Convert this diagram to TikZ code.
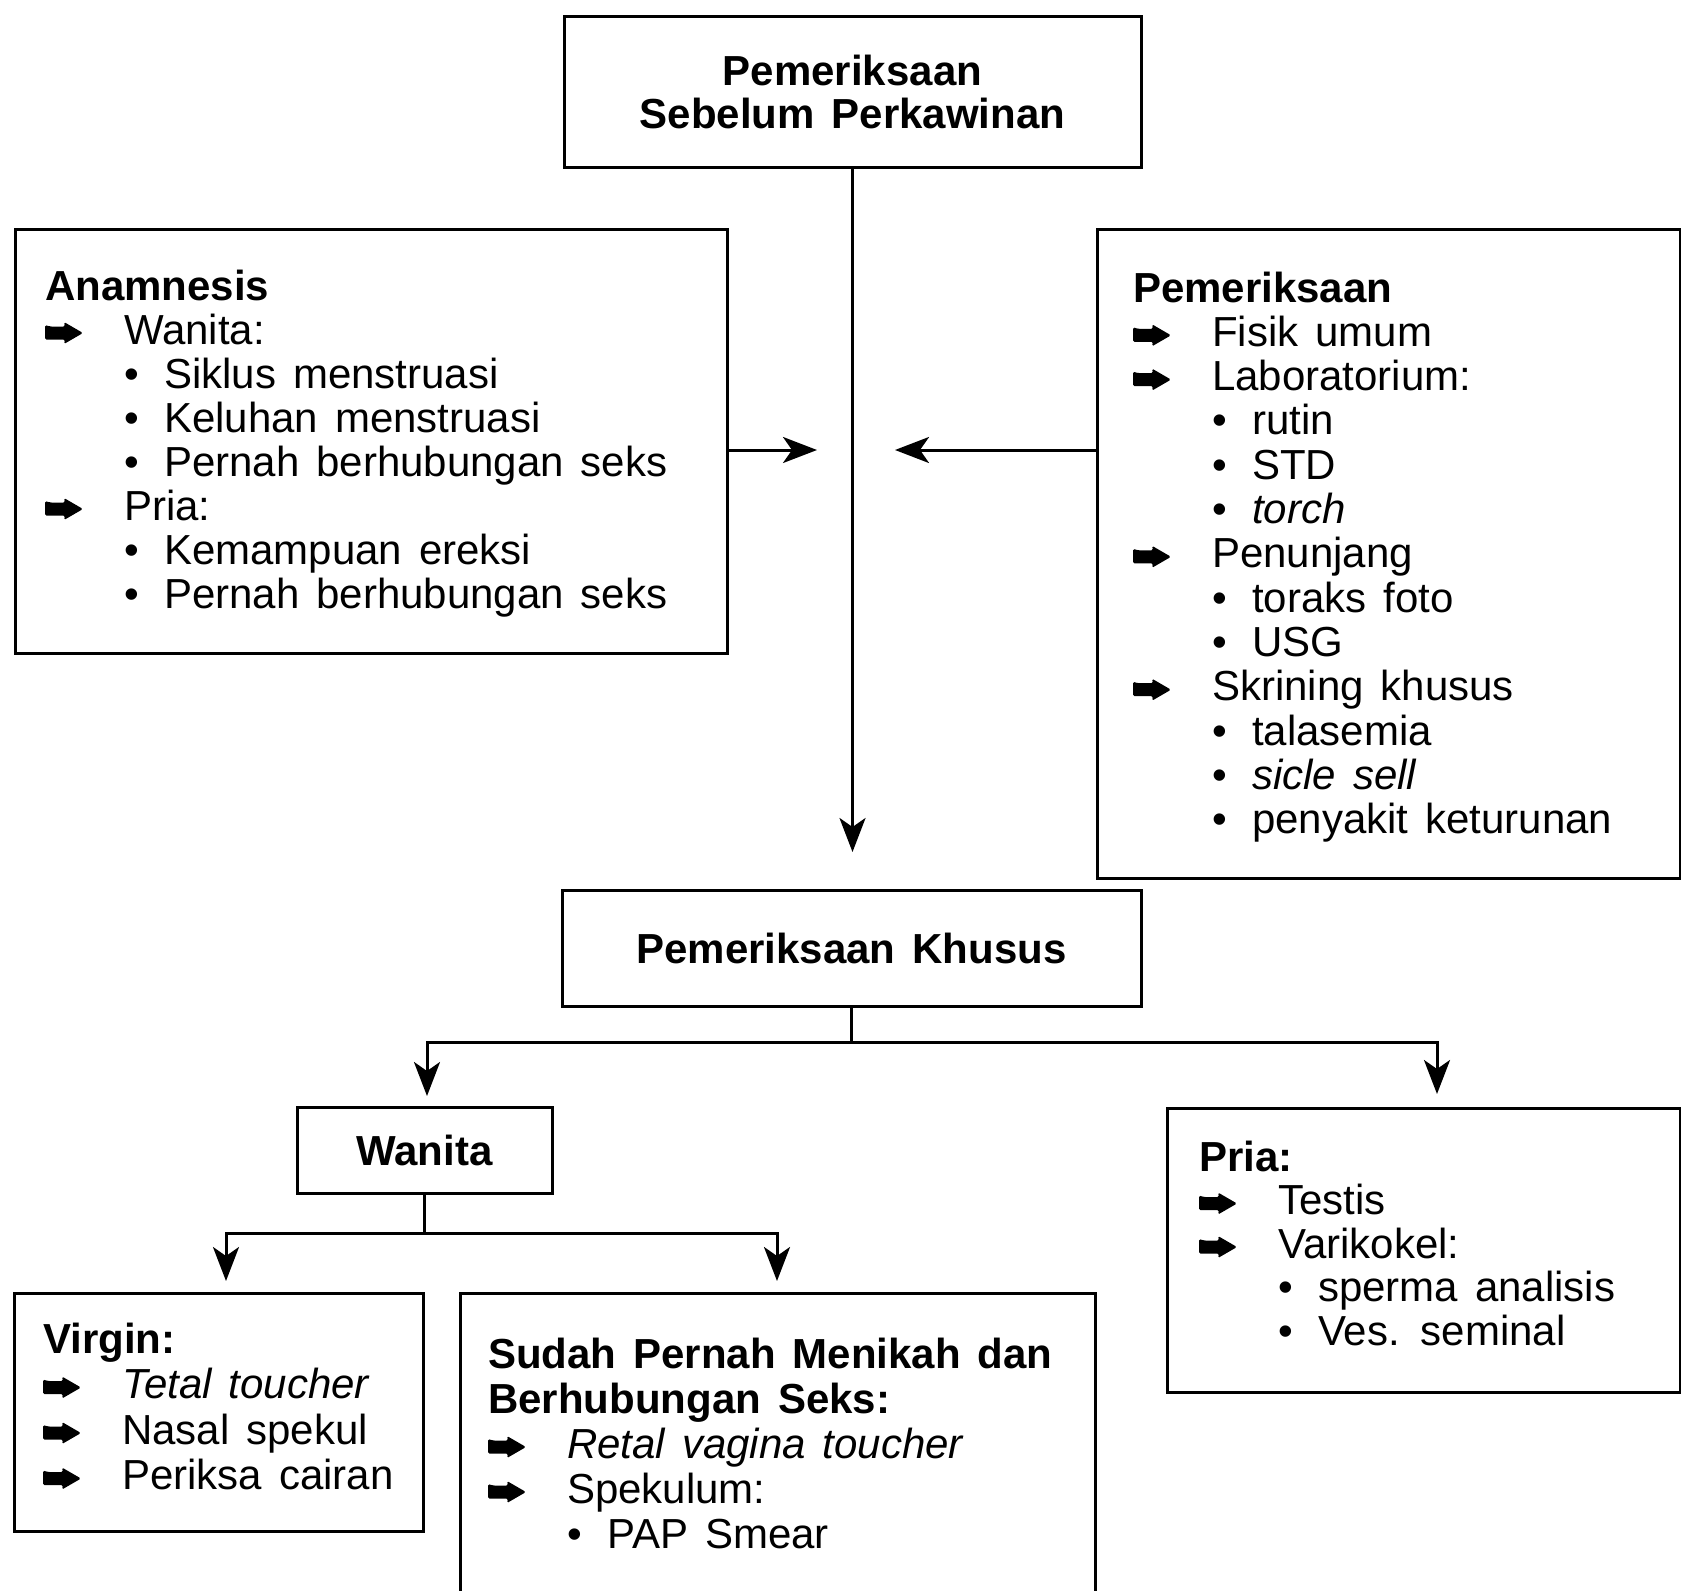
\documentclass[tikz,border=0pt]{standalone}
\usepackage{fontspec}
\setmainfont{Liberation Sans}[WordSpace=1.45]
\usetikzlibrary{arrows.meta,calc}

% list helpers: heading, arrow item (glyph drawn separately), bullet item
\newcommand\hd[1]{\textbf{#1}\par}
\newcommand\ai[1]{\hspace*{79pt}#1\par}
\newcommand\bi[1]{\hspace*{79pt}\makebox[40pt][l]{\textbullet}#1\par}
\newcommand\listbox[3]{\parbox[t]{#1}{\fontsize{42}{#2}\selectfont\parindent=0pt\relax #3}}

\tikzset{
  box/.style={draw, line width=3pt, rectangle, inner sep=0pt},
  conn/.style={line width=3pt},
  arr/.style={line width=3pt, -{Stealth[length=34pt,width=26pt,inset=9pt]}},
  ttl/.style={font=\fontsize{42}{43}\selectfont\bfseries, align=center},
  txt/.style={anchor=base west, inner sep=0pt},
  fatarr/.pic={\fill[rounded corners=1.5pt] (0,-8) -- (5,-6.5) -- (20,-6.5) -- (19,-11)
      -- (38,0) -- (19,11) -- (20,6.5) -- (0,6.5) -- cycle;}
}

\begin{document}
\begin{tikzpicture}[x=1pt,y=-1pt]
\useasboundingbox (0,0) rectangle (1681,1590);
\clip (0,0) rectangle (1681,1590);
\fill[white] (0,0) rectangle (1681,1590);

% main boxes
\node[box, ttl, minimum width=577pt, minimum height=151pt] (top) at (852.5,91.5)
  {Pemeriksaan\\Sebelum Perkawinan};
\node[box, minimum width=712pt, minimum height=424pt, anchor=north west] (anam) at (14,228) {};
\node[box, minimum width=583pt, minimum height=649pt, anchor=north west] (pem) at (1096,228) {};
\node[box, ttl, minimum width=579pt, minimum height=116pt] (khusus) at (851.5,948)
  {Pemeriksaan Khusus};
\node[box, ttl, minimum width=255pt, minimum height=86pt] (wanita) at (424.5,1150) {Wanita};
\node[box, minimum width=409pt, minimum height=238pt, anchor=north west] (virgin) at (13,1292) {};
\node[box, minimum width=635pt, minimum height=330pt, anchor=north west] (sudah) at (459,1292) {};
\node[box, minimum width=513pt, minimum height=284pt, anchor=north west] (pria) at (1166,1107) {};

% box contents
\node[txt] (anamtxt) at (45,300) {\listbox{660pt}{44}{%
  \hd{Anamnesis}
  \ai{Wanita:}
  \bi{Siklus menstruasi}
  \bi{Keluhan menstruasi}
  \bi{Pernah berhubungan seks}
  \ai{Pria:}
  \bi{Kemampuan ereksi}
  \bi{Pernah berhubungan seks}}};
\foreach \k in {1,5} \pic at (45,{300+44*\k-11}) {fatarr};

\node[txt] (pemtxt) at (1133,302) {\listbox{540pt}{44.3}{%
  \hd{Pemeriksaan}
  \ai{Fisik umum}
  \ai{Laboratorium:}
  \bi{rutin}
  \bi{STD}
  \bi{\textit{torch}}
  \ai{Penunjang}
  \bi{toraks foto}
  \bi{USG}
  \ai{Skrining khusus}
  \bi{talasemia}
  \bi{\textit{sicle sell}}
  \bi{penyakit keturunan}}};
\foreach \k in {1,2,6,9} \pic at (1133,{302+44.3*\k-11}) {fatarr};

\node[txt] (virgintxt) at (43,1353) {\listbox{370pt}{45.5}{%
  \hd{Virgin:}
  \ai{\textit{Tetal toucher}}
  \ai{Nasal spekul}
  \ai{Periksa cairan}}};
\foreach \k in {1,2,3} \pic at (43,{1353+45.5*\k-11}) {fatarr};

\node[txt] (sudahtxt) at (488,1368) {\listbox{600pt}{45}{%
  \hd{Sudah Pernah Menikah dan}
  \hd{Berhubungan Seks:}
  \ai{\textit{Retal vagina toucher}}
  \ai{Spekulum:}
  \bi{PAP Smear}}};
\foreach \k in {2,3} \pic at (488,{1368+45*\k-11}) {fatarr};

\node[txt] (priatxt) at (1199,1171) {\listbox{470pt}{43.5}{%
  \hd{Pria:}
  \ai{Testis}
  \ai{Varikokel:}
  \bi{sperma analisis}
  \bi{Ves. seminal}}};
\foreach \k in {1,2} \pic at (1199,{1171+43.5*\k-11}) {fatarr};

% connector end points
\coordinate (midtip) at (852,852);
\coordinate (ltip) at (817,450);
\coordinate (rtip) at (895,450);
\coordinate (kbar) at (0,1042);
\coordinate (wtip) at (427,1096);
\coordinate (ptip) at (1437,1094);
\coordinate (wbar) at (0,1233);
\coordinate (vtip) at (226,1281);
\coordinate (stip) at (777,1281);

% connectors
\draw[arr] (top.south) -- (top.south |- midtip);
\draw[arr] (anam.east |- ltip) -- (ltip);
\draw[arr] (pem.west |- rtip) -- (rtip);
\draw[conn] (khusus.south) -- (khusus.south |- kbar);
\draw[arr] (khusus.south |- kbar) -| (wtip);
\draw[arr] (khusus.south |- kbar) -| (ptip);
\draw[conn] (wanita.south) -- (wanita.south |- wbar);
\draw[arr] (wanita.south |- wbar) -| (vtip);
\draw[arr] (wanita.south |- wbar) -| (stip);
\end{tikzpicture}
\end{document}
